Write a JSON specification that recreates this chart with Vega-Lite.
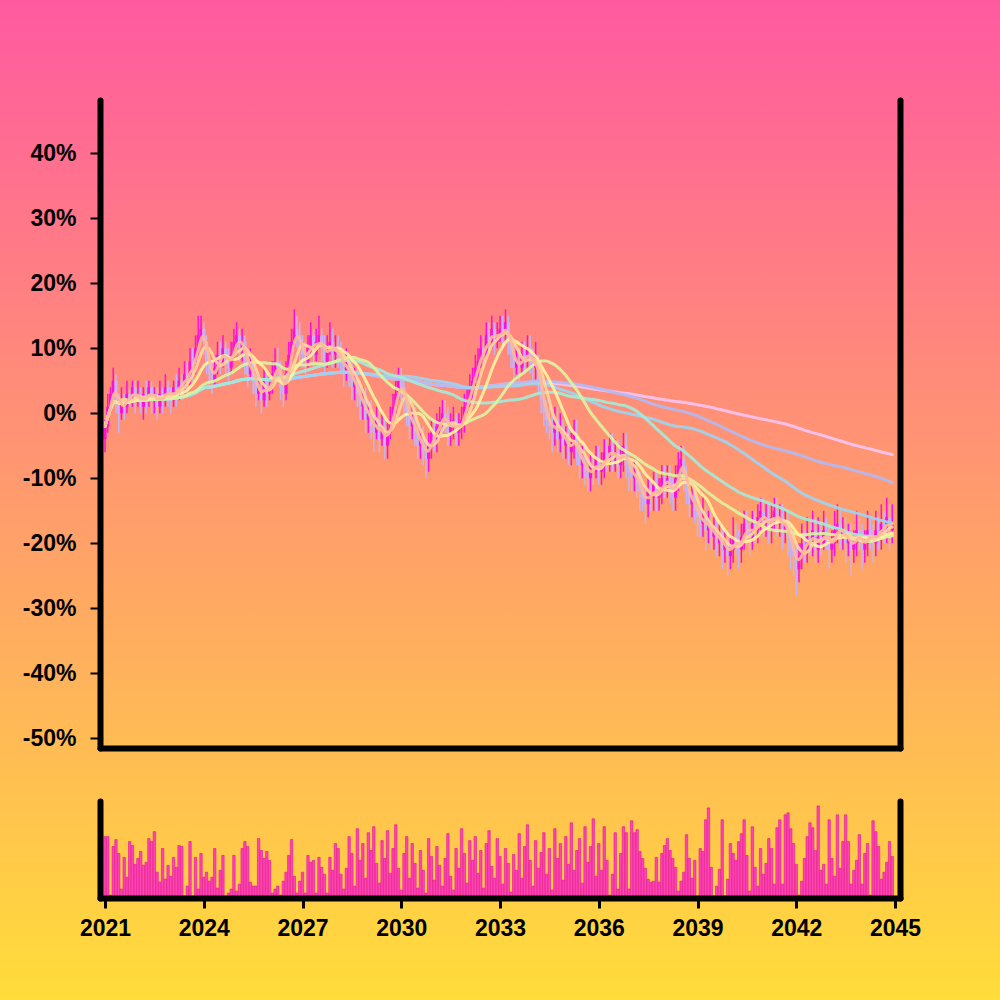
{
"$schema": "https://vega.github.io/schema/vega-lite/v6.json",
"padding": 0,
"background": "#ffa070",
"bounds": "flush",
"spacing": 53,
"config": {"view": {"stroke": null}, "font": "Liberation Sans"},
"datasets": {"k": [
{"m":0,"o":-4,"h":-1,"l":-6,"c":-2,"v":62},{"m":1,"o":-2,"h":3,"l":-3,"c":1,"v":62},{"m":2,"o":1,"h":4,"l":0,"c":3,"v":3},{"m":3,"o":3,"h":7,"l":2,"c":5,"v":52},{"m":4,"o":5,"h":6,"l":0,"c":2,"v":59},{"m":5,"o":2,"h":3,"l":-3,"c":0,"v":45},{"m":6,"o":0,"h":4,"l":-1,"c":2,"v":9},{"m":7,"o":2,"h":3,"l":-1,"c":1,"v":41},{"m":8,"o":1,"h":5,"l":0,"c":3,"v":21},{"m":9,"o":3,"h":4,"l":1,"c":2,"v":57},
{"m":10,"o":2,"h":5,"l":1,"c":4,"v":53},{"m":11,"o":4,"h":5,"l":0,"c":2,"v":34},{"m":12,"o":2,"h":5,"l":1,"c":3,"v":40},{"m":13,"o":3,"h":4,"l":0,"c":1,"v":47},{"m":14,"o":1,"h":4,"l":-1,"c":3,"v":33},{"m":15,"o":3,"h":5,"l":0,"c":2,"v":36},{"m":16,"o":2,"h":5,"l":1,"c":4,"v":60},{"m":17,"o":4,"h":5,"l":0,"c":2,"v":57},{"m":18,"o":2,"h":4,"l":0,"c":3,"v":67},{"m":19,"o":3,"h":4,"l":-1,"c":1,"v":26},
{"m":20,"o":1,"h":5,"l":0,"c":3,"v":16},{"m":21,"o":3,"h":4,"l":0,"c":2,"v":50},{"m":22,"o":2,"h":6,"l":1,"c":4,"v":19},{"m":23,"o":4,"h":5,"l":1,"c":3,"v":33},{"m":24,"o":3,"h":4,"l":0,"c":2,"v":22},{"m":25,"o":2,"h":5,"l":1,"c":4,"v":41},{"m":26,"o":4,"h":6,"l":1,"c":3,"v":31},{"m":27,"o":3,"h":7,"l":2,"c":5,"v":53},{"m":28,"o":5,"h":6,"l":2,"c":4,"v":52},{"m":29,"o":4,"h":8,"l":3,"c":6,"v":2},
{"m":30,"o":6,"h":8,"l":3,"c":5,"v":12},{"m":31,"o":5,"h":10,"l":4,"c":8,"v":57},{"m":32,"o":8,"h":10,"l":5,"c":7,"v":2},{"m":33,"o":7,"h":12,"l":6,"c":10,"v":41},{"m":34,"o":10,"h":15,"l":9,"c":12,"v":9},{"m":35,"o":12,"h":15,"l":11,"c":13,"v":45},{"m":36,"o":13,"h":14,"l":9,"c":11,"v":21},{"m":37,"o":11,"h":12,"l":6,"c":8,"v":26},{"m":38,"o":8,"h":9,"l":4,"c":6,"v":17},{"m":39,"o":6,"h":8,"l":3,"c":5,"v":21},
{"m":40,"o":5,"h":9,"l":4,"c":7,"v":50},{"m":41,"o":7,"h":11,"l":6,"c":9,"v":10},{"m":42,"o":9,"h":11,"l":6,"c":8,"v":28},{"m":43,"o":8,"h":12,"l":7,"c":10,"v":43},{"m":44,"o":10,"h":11,"l":6,"c":8,"v":2},{"m":45,"o":8,"h":10,"l":5,"c":7,"v":5},{"m":46,"o":7,"h":11,"l":6,"c":9,"v":9},{"m":47,"o":9,"h":13,"l":8,"c":11,"v":43},{"m":48,"o":11,"h":14,"l":10,"c":12,"v":7},{"m":49,"o":12,"h":13,"l":8,"c":10,"v":14},
{"m":50,"o":10,"h":13,"l":8,"c":11,"v":50},{"m":51,"o":11,"h":12,"l":6,"c":8,"v":57},{"m":52,"o":8,"h":9,"l":4,"c":6,"v":52},{"m":53,"o":6,"h":10,"l":5,"c":8,"v":16},{"m":54,"o":8,"h":9,"l":3,"c":5,"v":12},{"m":55,"o":5,"h":6,"l":1,"c":3,"v":12},{"m":56,"o":3,"h":6,"l":2,"c":4,"v":60},{"m":57,"o":4,"h":5,"l":0,"c":2,"v":48},{"m":58,"o":2,"h":7,"l":1,"c":5,"v":40},{"m":59,"o":5,"h":6,"l":1,"c":3,"v":47},
{"m":60,"o":3,"h":6,"l":2,"c":4,"v":38},{"m":61,"o":4,"h":8,"l":3,"c":6,"v":5},{"m":62,"o":6,"h":10,"l":5,"c":8,"v":9},{"m":63,"o":8,"h":10,"l":5,"c":7,"v":12},{"m":64,"o":7,"h":8,"l":2,"c":4,"v":3},{"m":65,"o":4,"h":6,"l":1,"c":3,"v":17},{"m":66,"o":3,"h":8,"l":2,"c":6,"v":26},{"m":67,"o":6,"h":11,"l":5,"c":9,"v":43},{"m":68,"o":9,"h":13,"l":8,"c":11,"v":59},{"m":69,"o":11,"h":16,"l":10,"c":13,"v":22},
{"m":70,"o":13,"h":15,"l":10,"c":12,"v":5},{"m":71,"o":12,"h":14,"l":8,"c":10,"v":17},{"m":72,"o":10,"h":12,"l":7,"c":9,"v":26},{"m":73,"o":9,"h":11,"l":6,"c":8,"v":5},{"m":74,"o":8,"h":12,"l":7,"c":10,"v":43},{"m":75,"o":10,"h":14,"l":9,"c":12,"v":36},{"m":76,"o":12,"h":13,"l":7,"c":9,"v":38},{"m":77,"o":9,"h":13,"l":8,"c":11,"v":5},{"m":78,"o":11,"h":15,"l":10,"c":12,"v":41},{"m":79,"o":12,"h":13,"l":8,"c":10,"v":31},
{"m":80,"o":10,"h":12,"l":6,"c":8,"v":24},{"m":81,"o":8,"h":12,"l":7,"c":10,"v":5},{"m":82,"o":10,"h":14,"l":9,"c":11,"v":41},{"m":83,"o":11,"h":13,"l":7,"c":9,"v":28},{"m":84,"o":9,"h":12,"l":7,"c":10,"v":55},{"m":85,"o":10,"h":12,"l":7,"c":9,"v":50},{"m":86,"o":9,"h":11,"l":6,"c":8,"v":24},{"m":87,"o":8,"h":10,"l":4,"c":6,"v":9},{"m":88,"o":6,"h":10,"l":5,"c":8,"v":30},{"m":89,"o":8,"h":9,"l":4,"c":6,"v":62},
{"m":90,"o":6,"h":8,"l":2,"c":4,"v":45},{"m":91,"o":4,"h":7,"l":2,"c":5,"v":12},{"m":92,"o":5,"h":7,"l":1,"c":3,"v":70},{"m":93,"o":3,"h":5,"l":-1,"c":1,"v":38},{"m":94,"o":1,"h":4,"l":-1,"c":2,"v":55},{"m":95,"o":2,"h":4,"l":-3,"c":-1,"v":20},{"m":96,"o":-1,"h":2,"l":-3,"c":0,"v":66},{"m":97,"o":0,"h":2,"l":-4,"c":-2,"v":48},{"m":98,"o":-2,"h":0,"l":-6,"c":-3,"v":72},{"m":99,"o":-3,"h":1,"l":-4,"c":-1,"v":35},
{"m":100,"o":-1,"h":1,"l":-6,"c":-4,"v":15},{"m":101,"o":-4,"h":0,"l":-5,"c":-2,"v":58},{"m":102,"o":-2,"h":-1,"l":-7,"c":-5,"v":40},{"m":103,"o":-5,"h":-1,"l":-7,"c":-3,"v":68},{"m":104,"o":-3,"h":1,"l":-4,"c":-1,"v":25},{"m":105,"o":-1,"h":3,"l":-2,"c":1,"v":50},{"m":106,"o":1,"h":5,"l":0,"c":3,"v":74},{"m":107,"o":3,"h":7,"l":2,"c":5,"v":30},{"m":108,"o":5,"h":7,"l":2,"c":4,"v":8},{"m":109,"o":4,"h":5,"l":0,"c":2,"v":45},
{"m":110,"o":2,"h":3,"l":-2,"c":0,"v":62},{"m":111,"o":0,"h":2,"l":-4,"c":-2,"v":20},{"m":112,"o":-2,"h":1,"l":-4,"c":-1,"v":55},{"m":113,"o":-1,"h":1,"l":-5,"c":-3,"v":35},{"m":114,"o":-3,"h":-2,"l":-7,"c":-5,"v":10},{"m":115,"o":-5,"h":-2,"l":-7,"c":-4,"v":48},{"m":116,"o":-4,"h":-2,"l":-8,"c":-6,"v":28},{"m":117,"o":-6,"h":-4,"l":-10,"c":-7,"v":5},{"m":118,"o":-7,"h":-3,"l":-9,"c":-5,"v":60},{"m":119,"o":-5,"h":-1,"l":-7,"c":-3,"v":42},
{"m":120,"o":-3,"h":-1,"l":-6,"c":-4,"v":18},{"m":121,"o":-4,"h":0,"l":-6,"c":-2,"v":52},{"m":122,"o":-2,"h":1,"l":-4,"c":-1,"v":33},{"m":123,"o":-1,"h":2,"l":-3,"c":0,"v":12},{"m":124,"o":0,"h":2,"l":-3,"c":-1,"v":40},{"m":125,"o":-1,"h":1,"l":-5,"c":-3,"v":65},{"m":126,"o":-3,"h":0,"l":-5,"c":-2,"v":22},{"m":127,"o":-2,"h":1,"l":-4,"c":-1,"v":8},{"m":128,"o":-1,"h":0,"l":-5,"c":-3,"v":50},{"m":129,"o":-3,"h":0,"l":-5,"c":-2,"v":30},
{"m":130,"o":-2,"h":1,"l":-4,"c":-1,"v":70},{"m":131,"o":-1,"h":3,"l":-3,"c":1,"v":45},{"m":132,"o":1,"h":4,"l":0,"c":2,"v":15},{"m":133,"o":2,"h":6,"l":1,"c":4,"v":58},{"m":134,"o":4,"h":7,"l":2,"c":5,"v":38},{"m":135,"o":5,"h":9,"l":4,"c":7,"v":62},{"m":136,"o":7,"h":10,"l":5,"c":8,"v":25},{"m":137,"o":8,"h":12,"l":7,"c":10,"v":48},{"m":138,"o":10,"h":12,"l":7,"c":9,"v":10},{"m":139,"o":9,"h":14,"l":8,"c":12,"v":55},
{"m":140,"o":12,"h":14,"l":9,"c":11,"v":68},{"m":141,"o":11,"h":15,"l":10,"c":13,"v":32},{"m":142,"o":13,"h":14,"l":9,"c":11,"v":20},{"m":143,"o":11,"h":14,"l":10,"c":12,"v":60},{"m":144,"o":12,"h":15,"l":11,"c":13,"v":42},{"m":145,"o":13,"h":15,"l":10,"c":12,"v":14},{"m":146,"o":12,"h":16,"l":11,"c":14,"v":50},{"m":147,"o":14,"h":15,"l":9,"c":11,"v":35},{"m":148,"o":11,"h":12,"l":7,"c":9,"v":6},{"m":149,"o":9,"h":11,"l":5,"c":7,"v":44},
{"m":150,"o":7,"h":10,"l":6,"c":8,"v":28},{"m":151,"o":8,"h":10,"l":5,"c":7,"v":65},{"m":152,"o":7,"h":11,"l":6,"c":9,"v":20},{"m":153,"o":9,"h":11,"l":6,"c":8,"v":52},{"m":154,"o":8,"h":12,"l":7,"c":10,"v":74},{"m":155,"o":10,"h":12,"l":6,"c":8,"v":38},{"m":156,"o":8,"h":10,"l":5,"c":7,"v":12},{"m":157,"o":7,"h":11,"l":5,"c":8,"v":58},{"m":158,"o":8,"h":9,"l":3,"c":5,"v":30},{"m":159,"o":5,"h":6,"l":0,"c":2,"v":46},
{"m":160,"o":2,"h":3,"l":-2,"c":0,"v":66},{"m":161,"o":0,"h":2,"l":-3,"c":-1,"v":24},{"m":162,"o":-1,"h":1,"l":-4,"c":-2,"v":50},{"m":163,"o":-2,"h":0,"l":-6,"c":-3,"v":8},{"m":164,"o":-3,"h":1,"l":-5,"c":-1,"v":70},{"m":165,"o":-1,"h":1,"l":-6,"c":-4,"v":40},{"m":166,"o":-4,"h":0,"l":-6,"c":-2,"v":55},{"m":167,"o":-2,"h":-1,"l":-7,"c":-5,"v":18},{"m":168,"o":-5,"h":-2,"l":-7,"c":-4,"v":62},{"m":169,"o":-4,"h":-2,"l":-8,"c":-6,"v":34},
{"m":170,"o":-6,"h":-3,"l":-8,"c":-5,"v":76},{"m":171,"o":-5,"h":-1,"l":-7,"c":-3,"v":28},{"m":172,"o":-3,"h":-1,"l":-8,"c":-6,"v":48},{"m":173,"o":-6,"h":-4,"l":-10,"c":-8,"v":60},{"m":174,"o":-8,"h":-5,"l":-10,"c":-7,"v":15},{"m":175,"o":-7,"h":-5,"l":-11,"c":-9,"v":72},{"m":176,"o":-9,"h":-7,"l":-12,"c":-10,"v":36},{"m":177,"o":-10,"h":-6,"l":-12,"c":-8,"v":52},{"m":178,"o":-8,"h":-6,"l":-11,"c":-9,"v":80},{"m":179,"o":-9,"h":-5,"l":-10,"c":-7,"v":22},
{"m":180,"o":-7,"h":-5,"l":-11,"c":-9,"v":55},{"m":181,"o":-9,"h":-6,"l":-11,"c":-8,"v":28},{"m":182,"o":-8,"h":-4,"l":-10,"c":-6,"v":72},{"m":183,"o":-6,"h":-4,"l":-9,"c":-7,"v":38},{"m":184,"o":-7,"h":-3,"l":-9,"c":-5,"v":3},{"m":185,"o":-5,"h":-3,"l":-9,"c":-7,"v":24},{"m":186,"o":-7,"h":-4,"l":-9,"c":-6,"v":66},{"m":187,"o":-6,"h":-4,"l":-10,"c":-8,"v":9},{"m":188,"o":-8,"h":-5,"l":-10,"c":-7,"v":45},{"m":189,"o":-7,"h":-3,"l":-9,"c":-5,"v":72},
{"m":190,"o":-5,"h":-3,"l":-10,"c":-8,"v":66},{"m":191,"o":-8,"h":-6,"l":-12,"c":-9,"v":9},{"m":192,"o":-9,"h":-7,"l":-12,"c":-10,"v":78},{"m":193,"o":-10,"h":-7,"l":-12,"c":-9,"v":66},{"m":194,"o":-9,"h":-7,"l":-13,"c":-11,"v":69},{"m":195,"o":-11,"h":-9,"l":-15,"c":-12,"v":47},{"m":196,"o":-12,"h":-10,"l":-15,"c":-13,"v":40},{"m":197,"o":-13,"h":-11,"l":-17,"c":-14,"v":30},{"m":198,"o":-14,"h":-10,"l":-16,"c":-12,"v":19},{"m":199,"o":-12,"h":-10,"l":-15,"c":-13,"v":16},
{"m":200,"o":-13,"h":-9,"l":-15,"c":-11,"v":17},{"m":201,"o":-11,"h":-9,"l":-15,"c":-13,"v":41},{"m":202,"o":-13,"h":-10,"l":-15,"c":-12,"v":16},{"m":203,"o":-12,"h":-8,"l":-14,"c":-10,"v":45},{"m":204,"o":-10,"h":-8,"l":-13,"c":-11,"v":53},{"m":205,"o":-11,"h":-8,"l":-13,"c":-10,"v":60},{"m":206,"o":-10,"h":-8,"l":-14,"c":-12,"v":48},{"m":207,"o":-12,"h":-10,"l":-15,"c":-13,"v":40},{"m":208,"o":-13,"h":-8,"l":-15,"c":-10,"v":31},{"m":209,"o":-10,"h":-6,"l":-12,"c":-8,"v":7},
{"m":210,"o":-8,"h":-5,"l":-10,"c":-7,"v":17},{"m":211,"o":-7,"h":-5,"l":-12,"c":-10,"v":26},{"m":212,"o":-10,"h":-8,"l":-14,"c":-12,"v":64},{"m":213,"o":-12,"h":-10,"l":-16,"c":-14,"v":40},{"m":214,"o":-14,"h":-11,"l":-16,"c":-13,"v":20},{"m":215,"o":-13,"h":-11,"l":-17,"c":-15,"v":38},{"m":216,"o":-15,"h":-13,"l":-19,"c":-16,"v":2},{"m":217,"o":-16,"h":-14,"l":-19,"c":-17,"v":50},{"m":218,"o":-17,"h":-13,"l":-19,"c":-16,"v":47},{"m":219,"o":-16,"h":-14,"l":-21,"c":-18,"v":79},
{"m":220,"o":-18,"h":-15,"l":-20,"c":-17,"v":91},{"m":221,"o":-17,"h":-15,"l":-21,"c":-19,"v":31},{"m":222,"o":-19,"h":-16,"l":-21,"c":-18,"v":2},{"m":223,"o":-18,"h":-16,"l":-22,"c":-20,"v":12},{"m":224,"o":-20,"h":-17,"l":-22,"c":-19,"v":29},{"m":225,"o":-19,"h":-17,"l":-24,"c":-21,"v":79},{"m":226,"o":-21,"h":-18,"l":-23,"c":-20,"v":2},{"m":227,"o":-20,"h":-18,"l":-25,"c":-22,"v":19},{"m":228,"o":-22,"h":-19,"l":-24,"c":-21,"v":55},{"m":229,"o":-21,"h":-16,"l":-23,"c":-19,"v":45},
{"m":230,"o":-19,"h":-17,"l":-22,"c":-20,"v":38},{"m":231,"o":-20,"h":-18,"l":-24,"c":-21,"v":57},{"m":232,"o":-21,"h":-17,"l":-23,"c":-19,"v":65},{"m":233,"o":-19,"h":-15,"l":-21,"c":-17,"v":79},{"m":234,"o":-17,"h":-15,"l":-20,"c":-18,"v":43},{"m":235,"o":-18,"h":-16,"l":-22,"c":-19,"v":7},{"m":236,"o":-19,"h":-15,"l":-21,"c":-17,"v":72},{"m":237,"o":-17,"h":-15,"l":-20,"c":-18,"v":31},{"m":238,"o":-18,"h":-14,"l":-20,"c":-16,"v":12},{"m":239,"o":-16,"h":-13,"l":-18,"c":-15,"v":50},
{"m":240,"o":-15,"h":-13,"l":-19,"c":-17,"v":24},{"m":241,"o":-17,"h":-14,"l":-19,"c":-16,"v":35},{"m":242,"o":-16,"h":-14,"l":-20,"c":-18,"v":60},{"m":243,"o":-18,"h":-14,"l":-20,"c":-16,"v":50},{"m":244,"o":-16,"h":-13,"l":-18,"c":-15,"v":14},{"m":245,"o":-15,"h":-13,"l":-19,"c":-17,"v":71},{"m":246,"o":-17,"h":-14,"l":-19,"c":-16,"v":79},{"m":247,"o":-16,"h":-14,"l":-21,"c":-18,"v":14},{"m":248,"o":-18,"h":-15,"l":-20,"c":-17,"v":84},{"m":249,"o":-17,"h":-15,"l":-22,"c":-19,"v":86},
{"m":250,"o":-19,"h":-17,"l":-24,"c":-21,"v":70},{"m":251,"o":-21,"h":-19,"l":-25,"c":-22,"v":55},{"m":252,"o":-22,"h":-20,"l":-28,"c":-24,"v":34},{"m":253,"o":-24,"h":-20,"l":-26,"c":-22,"v":3},{"m":254,"o":-22,"h":-17,"l":-24,"c":-20,"v":17},{"m":255,"o":-20,"h":-18,"l":-23,"c":-21,"v":40},{"m":256,"o":-21,"h":-16,"l":-23,"c":-19,"v":62},{"m":257,"o":-19,"h":-17,"l":-22,"c":-20,"v":76},{"m":258,"o":-20,"h":-15,"l":-22,"c":-18,"v":71},{"m":259,"o":-18,"h":-16,"l":-23,"c":-21,"v":48},
{"m":260,"o":-21,"h":-16,"l":-23,"c":-19,"v":93},{"m":261,"o":-19,"h":-17,"l":-22,"c":-20,"v":28},{"m":262,"o":-20,"h":-15,"l":-21,"c":-18,"v":34},{"m":263,"o":-18,"h":-16,"l":-21,"c":-19,"v":14},{"m":264,"o":-19,"h":-17,"l":-24,"c":-21,"v":79},{"m":265,"o":-21,"h":-18,"l":-23,"c":-20,"v":40},{"m":266,"o":-20,"h":-15,"l":-22,"c":-18,"v":22},{"m":267,"o":-18,"h":-14,"l":-20,"c":-17,"v":84},{"m":268,"o":-17,"h":-15,"l":-21,"c":-19,"v":30},{"m":269,"o":-19,"h":-16,"l":-21,"c":-18,"v":57},
{"m":270,"o":-18,"h":-16,"l":-23,"c":-20,"v":84},{"m":271,"o":-20,"h":-17,"l":-22,"c":-19,"v":57},{"m":272,"o":-19,"h":-17,"l":-25,"c":-21,"v":14},{"m":273,"o":-21,"h":-18,"l":-23,"c":-20,"v":28},{"m":274,"o":-20,"h":-15,"l":-22,"c":-18,"v":38},{"m":275,"o":-18,"h":-16,"l":-21,"c":-19,"v":64},{"m":276,"o":-19,"h":-17,"l":-24,"c":-21,"v":14},{"m":277,"o":-21,"h":-18,"l":-23,"c":-20,"v":45},{"m":278,"o":-20,"h":-15,"l":-22,"c":-18,"v":55},{"m":279,"o":-18,"h":-16,"l":-21,"c":-19,"v":3},
{"m":280,"o":-19,"h":-17,"l":-23,"c":-20,"v":78},{"m":281,"o":-20,"h":-15,"l":-22,"c":-18,"v":67},{"m":282,"o":-18,"h":-16,"l":-21,"c":-19,"v":52},{"m":283,"o":-19,"h":-14,"l":-21,"c":-17,"v":19},{"m":284,"o":-17,"h":-15,"l":-20,"c":-18,"v":26},{"m":285,"o":-18,"h":-13,"l":-20,"c":-16,"v":36},{"m":286,"o":-16,"h":-14,"l":-21,"c":-18,"v":57},{"m":287,"o":-18,"h":-14,"l":-20,"c":-17,"v":42}
]},
"vconcat": [
{
"width": 800,
"height": 648,
"layer": [
{
"data": {"values": [{}]},
"mark": {"type": "rect", "fill": {"gradient": "linear", "x1": 0, "y1": 0, "x2": 0, "y2": 1, "stops": [{"offset": 0, "color": "#ff5aa0"}, {"offset": 1, "color": "#ffdd3a"}]}},
"encoding": {"x": {"value": -100}, "x2": {"value": 900}, "y": {"value": -100}, "y2": {"value": 900}}
},
{
"data": {"name": "k"},
"layer": [
{
"mark": {"type": "rule", "strokeWidth": 1.5},
"encoding": {
"x": {"field": "m", "type": "quantitative", "scale": {"domain": [0, 288], "nice": false, "zero": false}, "axis": {"labels": false, "ticks": false, "domainWidth": 6, "domainColor": "black", "domainCap": "round", "grid": false, "title": null, "zindex": 1}},
"y": {"field": "l", "type": "quantitative", "scale": {"domain": [-51.5, 48.2], "nice": false, "zero": false}, "axis": {"values": [-50, -40, -30, -20, -10, 0, 10, 20, 30, 40], "labelExpr": "datum.value + '%'", "tickSize": 10, "tickWidth": 2, "tickColor": "black", "domainWidth": 6, "domainColor": "black", "domainCap": "round", "labelFontSize": 23, "labelFontWeight": "bold", "labelColor": "black", "labelPadding": 14, "labelFont": "Liberation Sans", "grid": false, "title": null, "zindex": 1}},
"y2": {"field": "h"},
"color": {"condition": {"test": "datum.c >= datum.o", "value": "#ff10d4"}, "value": "#c6b4f2"}
}
},
{
"mark": {"type": "bar", "width": 3.2},
"encoding": {
"x": {"field": "m", "type": "quantitative"},
"y": {"field": "o", "type": "quantitative"},
"y2": {"field": "c"},
"color": {"condition": {"test": "datum.c >= datum.o", "value": "#ff10d4"}, "value": "#c6b4f2"}
}
}
]
},
{
"data": {"name": "k"},
"transform": [
{"window": [{"op": "mean", "field": "c", "as": "a3"}], "frame": [-2, 0], "sort": [{"field": "m"}]},
{"window": [{"op": "mean", "field": "c", "as": "a6"}], "frame": [-5, 0], "sort": [{"field": "m"}]},
{"window": [{"op": "mean", "field": "c", "as": "a12"}], "frame": [-11, 0], "sort": [{"field": "m"}]},
{"window": [{"op": "mean", "field": "c", "as": "a30"}], "frame": [-29, 0], "sort": [{"field": "m"}]},
{"window": [{"op": "mean", "field": "c", "as": "a60"}], "frame": [-59, 0], "sort": [{"field": "m"}]},
{"window": [{"op": "mean", "field": "c", "as": "a96"}], "frame": [-95, 0], "sort": [{"field": "m"}]},
{"window": [{"op": "mean", "field": "c", "as": "a150"}], "frame": [-149, 0], "sort": [{"field": "m"}]},
{"window": [{"op": "mean", "field": "c", "as": "a220"}], "frame": [-219, 0], "sort": [{"field": "m"}]},
{"fold": ["a220", "a150", "a96", "a60", "a30", "a12", "a6", "a3"], "as": ["ma", "val"]}
],
"mark": {"type": "line", "strokeWidth": 3, "opacity": 0.92, "strokeCap": "round", "strokeJoin": "round", "interpolate": "basis"},
"encoding": {
"x": {"field": "m", "type": "quantitative"},
"y": {"field": "val", "type": "quantitative", "axis": {"orient": "right", "labels": false, "ticks": false, "domainWidth": 6, "domainColor": "black", "domainCap": "round", "grid": false, "title": null, "zindex": 1}},
"color": {"field": "ma", "type": "nominal", "scale": {"domain": ["a220", "a150", "a96", "a60", "a30", "a12", "a6", "a3"], "range": ["#f7c4f2", "#b4b8f0", "#9fd2f0", "#a3ead8", "#d9f3a0", "#fff2a0", "#ffd79a", "#ffb898"]}, "legend": null}
}
}
],
"resolve": {"axis": {"y": "independent"}}
},
{
"width": 800,
"height": 97,
"data": {"name": "k"},
"layer": [
{
"mark": {"type": "bar", "width": 2.4, "fill": "#ff45b5", "stroke": "#e0139a", "strokeWidth": 0.6},
"encoding": {
"x": {"field": "m", "type": "quantitative", "scale": {"domain": [0, 288], "nice": false, "zero": false}, "axis": {"values": [0, 36, 72, 108, 144, 180, 216, 252, 288], "labelExpr": "2021 + datum.value / 12", "tickSize": 10, "tickWidth": 3, "tickColor": "black", "domainWidth": 6, "domainColor": "black", "domainCap": "round", "labelFontSize": 23, "labelFontWeight": "bold", "labelColor": "black", "labelPadding": 9, "labelFont": "Liberation Sans", "labelFlush": false, "labelOverlap": false, "grid": false, "title": null, "zindex": 1}},
"y": {"field": "v", "type": "quantitative", "scale": {"domain": [0, 98], "nice": false}, "axis": {"labels": false, "ticks": false, "domainWidth": 6, "domainColor": "black", "domainCap": "round", "grid": false, "title": null, "zindex": 1}}
}
},
{
"mark": {"type": "rule", "opacity": 0},
"encoding": {
"x": {"field": "m", "type": "quantitative"},
"y": {"field": "v", "type": "quantitative", "axis": {"orient": "right", "labels": false, "ticks": false, "domainWidth": 6, "domainColor": "black", "domainCap": "round", "grid": false, "title": null, "zindex": 1}}
}
}
],
"resolve": {"axis": {"y": "independent"}}
}
]
}
